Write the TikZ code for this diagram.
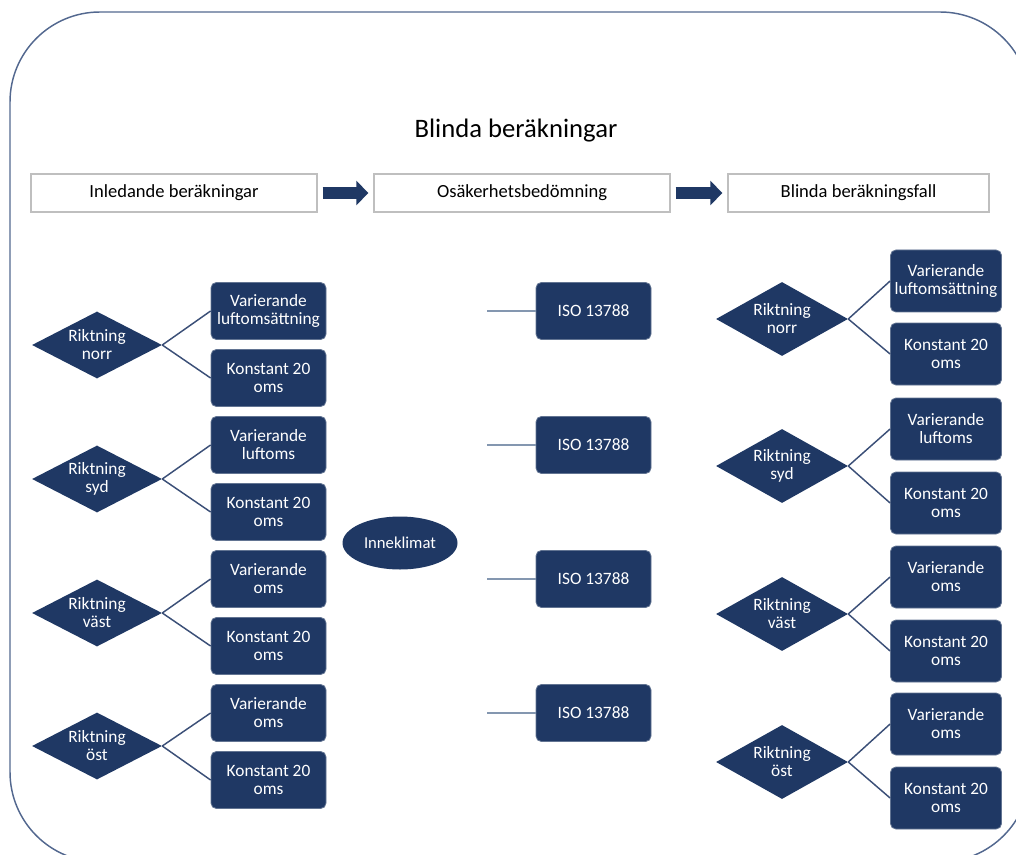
\documentclass[tikz,border=0pt]{standalone}
\usepackage{fontspec}
\setmainfont{Carlito}
\usetikzlibrary{shapes.geometric,arrows.meta}
\definecolor{navy}{HTML}{1F3864}
\definecolor{linkcol}{HTML}{3B4F77}
\definecolor{isocol}{HTML}{8497B0}
\definecolor{framecol}{HTML}{53688F}
\definecolor{headcol}{HTML}{BFBFBF}
\begin{document}
\begin{tikzpicture}[x=0.75pt, y=-0.75pt,
	stage/.style={fill=white, draw=headcol, line width=1pt, minimum height=28.5pt, inner sep=0pt, font=\fontsize{13.9}{14}\selectfont},
	flow/.style={draw=navy, line width=9pt, -{Triangle[length=9pt, width=18pt]}, shorten <=3.75pt, shorten >=3.75pt},
	case/.style={fill=navy, draw=navy!70!white, line width=0.6pt, rounded corners=4pt, minimum width=86.25pt, minimum height=42.75pt, inner sep=0pt, align=center, text=white, font=\fontsize{13}{13.5}\selectfont},
	rcase/.style={case, minimum width=83.25pt, minimum height=46.5pt},
	compass/.style={diamond, aspect=2, fill=navy, inner sep=0pt, minimum width=97.5pt, minimum height=50.25pt, align=center, text=white, font=\fontsize{13}{13.5}\selectfont},
	rcompass/.style={compass, minimum width=99pt, minimum height=55.5pt},
	indoor/.style={ellipse, fill=navy, inner sep=0pt, minimum width=86.25pt, minimum height=39.75pt, text=white, font=\fontsize{12.5}{13}\selectfont},
	branch/.style={draw=linkcol, line width=1.1pt},
	isoline/.style={draw=isocol, line width=1.4pt},
	frame/.style={draw=framecol, line width=1.1pt, rounded corners=67.5pt}]
%	\draw[help lines] (0,0) grid[step=50] (1016,855);
	\useasboundingbox (0,0) rectangle (1016,855);
	\clip (0,0) rectangle (1016,855);
	\draw[frame] (10,12) rectangle (1030,862);
	\node[font=\fontsize{20}{24}\selectfont] (title) at (516, 131) {Blinda beräkningar};
	% stages
	\node[stage, minimum width=214.5pt] (intro) at (174, 193) {Inledande beräkningar};
	\node[stage, minimum width=222pt] (uncert) at (522, 193) {Osäkerhetsbedömning};
	\node[stage, minimum width=195.75pt] (blind) at (858.5, 193) {Blinda beräkningsfall};
	\draw[flow] (intro) -- (uncert);
	\draw[flow] (uncert) -- (blind);
	% inledande
	\node[compass] (l-norr) at (97, 345) {Riktning\\norr};
	\node[compass] (l-syd) at (97, 479) {Riktning\\syd};
	\node[compass] (l-vast) at (97, 613) {Riktning\\väst};
	\node[compass] (l-ost) at (97, 746) {Riktning\\öst};
	\node[case] (l-norr1) at (268.5, 311) {Varierande\\luftomsättning};
	\node[case] (l-norr2) at (268.5, 378) {Konstant 20\\oms};
	\node[case] (l-syd1) at (268.5, 445) {Varierande\\luftoms};
	\node[case] (l-syd2) at (268.5, 512) {Konstant 20\\oms};
	\node[case] (l-vast1) at (268.5, 579) {Varierande\\oms};
	\node[case] (l-vast2) at (268.5, 646) {Konstant 20\\oms};
	\node[case] (l-ost1) at (268.5, 713) {Varierande\\oms};
	\node[case] (l-ost2) at (268.5, 780) {Konstant 20\\oms};
	\draw[branch] (l-norr.east) edge (l-norr1.west);
	\draw[branch] (l-norr.east) edge (l-norr2.west);
	\draw[branch] (l-syd.east) edge (l-syd1.west);
	\draw[branch] (l-syd.east) edge (l-syd2.west);
	\draw[branch] (l-vast.east) edge (l-vast1.west);
	\draw[branch] (l-vast.east) edge (l-vast2.west);
	\draw[branch] (l-ost.east) edge (l-ost1.west);
	\draw[branch] (l-ost.east) edge (l-ost2.west);
	% osakerhet
	\node[indoor] (climate) at (400, 543) {Inneklimat};
	\node[case] (iso1) at (593.5, 311) {ISO 13788};
	\node[case] (iso2) at (593.5, 445) {ISO 13788};
	\node[case] (iso3) at (593.5, 579) {ISO 13788};
	\node[case] (iso4) at (593.5, 713) {ISO 13788};
	\coordinate (iso1-in) at (487, 311);
	\coordinate (iso2-in) at (487, 445);
	\coordinate (iso3-in) at (487, 579);
	\coordinate (iso4-in) at (487, 713);
	\draw[isoline] (iso1-in) -- (iso1.west);
	\draw[isoline] (iso2-in) -- (iso2.west);
	\draw[isoline] (iso3-in) -- (iso3.west);
	\draw[isoline] (iso4-in) -- (iso4.west);
	% blinda fall
	\node[rcompass] (r-norr) at (782, 319) {Riktning\\norr};
	\node[rcompass] (r-syd) at (782, 466) {Riktning\\syd};
	\node[rcompass] (r-vast) at (782, 614) {Riktning\\väst};
	\node[rcompass] (r-ost) at (782, 762) {Riktning\\öst};
	\node[rcase] (r-norr1) at (946, 281) {Varierande\\luftomsättning};
	\node[rcase] (r-norr2) at (946, 354) {Konstant 20\\oms};
	\node[rcase] (r-syd1) at (946, 429) {Varierande\\luftoms};
	\node[rcase] (r-syd2) at (946, 503) {Konstant 20\\oms};
	\node[rcase] (r-vast1) at (946, 577) {Varierande\\oms};
	\node[rcase] (r-vast2) at (946, 651) {Konstant 20\\oms};
	\node[rcase] (r-ost1) at (946, 724) {Varierande\\oms};
	\node[rcase] (r-ost2) at (946, 798) {Konstant 20\\oms};
	\draw[branch] (r-norr.east) edge (r-norr1.west);
	\draw[branch] (r-norr.east) edge (r-norr2.west);
	\draw[branch] (r-syd.east) edge (r-syd1.west);
	\draw[branch] (r-syd.east) edge (r-syd2.west);
	\draw[branch] (r-vast.east) edge (r-vast1.west);
	\draw[branch] (r-vast.east) edge (r-vast2.west);
	\draw[branch] (r-ost.east) edge (r-ost1.west);
	\draw[branch] (r-ost.east) edge (r-ost2.west);
\end{tikzpicture}
\end{document}
